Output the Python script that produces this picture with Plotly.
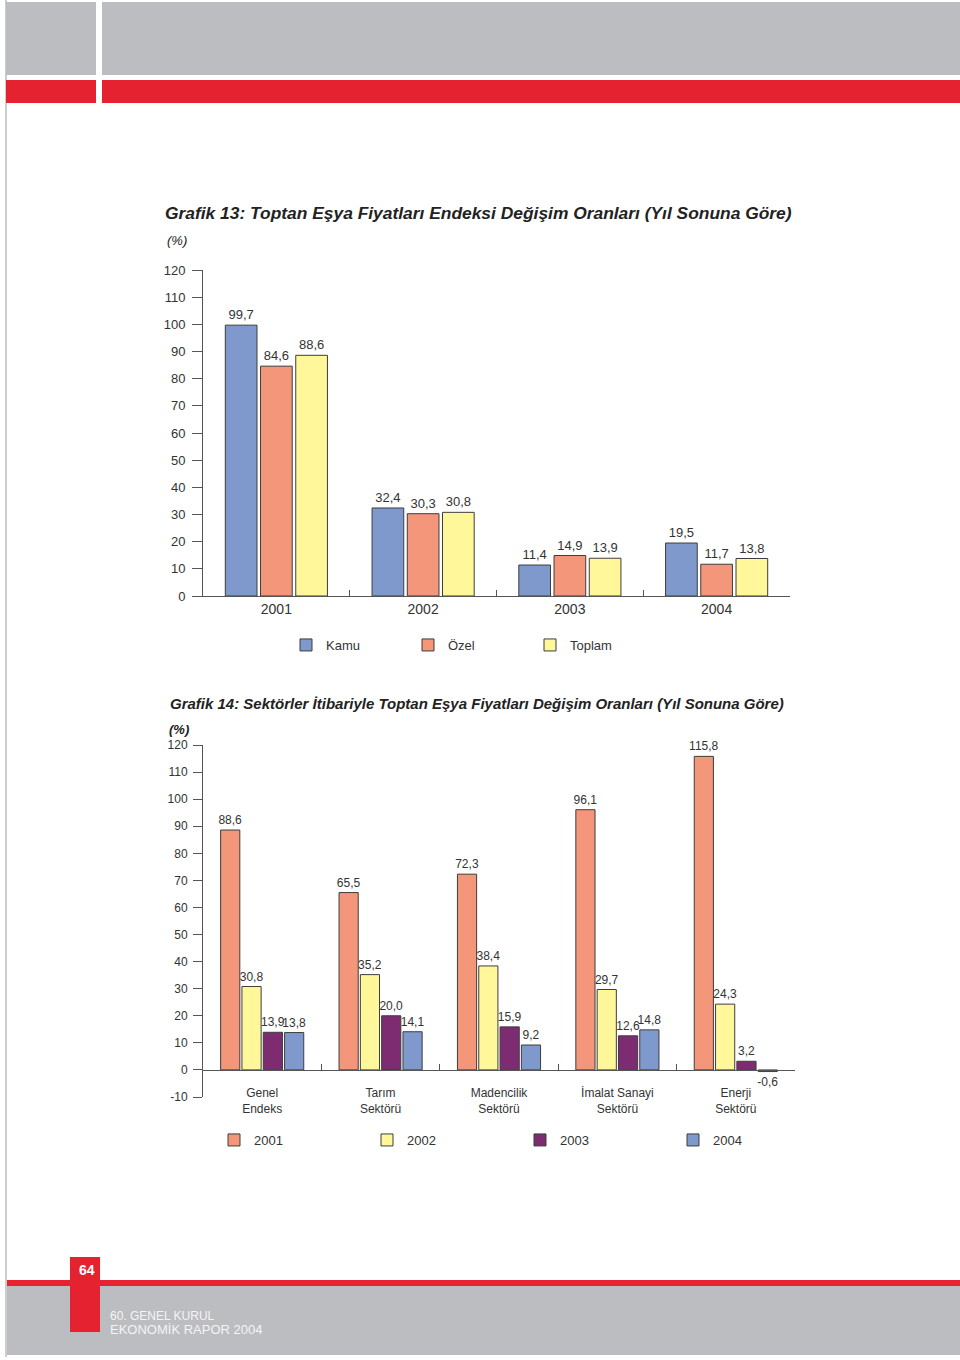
import plotly.graph_objects as go

W, H = 960, 1360

# ---------------- data ----------------
years13 = ["2001", "2002", "2003", "2004"]
kamu = [99.7, 32.4, 11.4, 19.5]
ozel = [84.6, 30.3, 14.9, 11.7]
toplam = [88.6, 30.8, 13.9, 13.8]
series13_names = ["Kamu", "Özel", "Toplam"]

sectors14 = ["Genel<br>Endeks", "Tarım<br>Sektörü", "Madencilik<br>Sektörü",
             "İmalat Sanayi<br>Sektörü", "Enerji<br>Sektörü"]
y2001 = [88.6, 65.5, 72.3, 96.1, 115.8]
y2002 = [30.8, 35.2, 38.4, 29.7, 24.3]
y2003 = [13.9, 20.0, 15.9, 12.6, 3.2]
y2004 = [13.8, 14.1, 9.2, 14.8, -0.6]
series14_names = ["2001", "2002", "2003", "2004"]

yticks13 = list(range(0, 121, 10))
yticks14 = list(range(-10, 121, 10))

# ---------------- style ----------------
BLUE = "#7f99cc"
SALMON = "#f4967a"
YELLOW = "#fff799"
PURPLE = "#7d2c72"
EDGE = "#3d3d3d"
TXT = "#333333"
AX = "#555555"
GRAY = "#bcbdc0"
RED = "#e42230"
FONT = "Liberation Sans, Arial, sans-serif"
FONT_N = "Liberation Sans Narrow, Arial Narrow, Liberation Sans, sans-serif"


def px(x):
    return x / W


def py(y):
    return 1 - y / H


def lab(vals):
    return [f"{v:.1f}".replace(".", ",") for v in vals]


fig = go.Figure()

for name, vals, col in zip(series13_names, [kamu, ozel, toplam], [BLUE, SALMON, YELLOW]):
    fig.add_trace(go.Bar(
        x=years13, y=vals, name=name, marker=dict(color=col, line=dict(color=EDGE, width=1)),
        text=lab(vals), textposition="outside", constraintext="none", cliponaxis=False,
        textfont=dict(family=FONT, size=13, color=TXT),
        xaxis="x", yaxis="y", legend="legend"))

for name, vals, col in zip(series14_names, [y2001, y2002, y2003, y2004],
                           [SALMON, YELLOW, PURPLE, BLUE]):
    fig.add_trace(go.Bar(
        x=sectors14, y=vals, name=name, marker=dict(color=col, line=dict(color=EDGE, width=1)),
        text=lab(vals), textposition="outside", constraintext="none", cliponaxis=False,
        textfont=dict(family=FONT_N, size=12, color=TXT),
        xaxis="x2", yaxis="y2", legend="legend2"))

axis_common = dict(showgrid=False, zeroline=False, showline=True, linecolor=AX, linewidth=1,
                   tickcolor=AX, tickwidth=1, automargin=False)

fig.update_layout(
    width=W, height=H, autosize=False,
    margin=dict(l=0, r=0, t=0, b=0, pad=0, autoexpand=False),
    paper_bgcolor="white", plot_bgcolor="rgba(0,0,0,0)",
    barmode="group", bargap=0.28, bargroupgap=0.1,
    font=dict(family=FONT, color=TXT),
    xaxis=dict(domain=[px(203), px(790)], anchor="y", type="category",
               ticks="inside", tickson="boundaries", ticklen=6,
               tickfont=dict(family=FONT, size=14, color=TXT), **axis_common),
    yaxis=dict(domain=[py(596), py(270)], anchor="x", range=[0, 120],
               tickvals=yticks13, ticktext=[str(v) for v in yticks13],
               ticks="outside", ticklen=10, ticklabelstandoff=4,
               tickfont=dict(family=FONT, size=13, color=TXT), **axis_common),
    xaxis2=dict(domain=[px(203), px(795)], anchor="free", position=py(1070), type="category",
                ticks="inside", tickson="boundaries", ticklen=6, ticklabelstandoff=12,
                tickfont=dict(family=FONT_N, size=12, color=TXT), **axis_common),
    yaxis2=dict(domain=[py(1097), py(745)], anchor="x2", range=[-10, 120],
                tickvals=yticks14, ticktext=[str(v) for v in yticks14],
                ticks="outside", ticklen=9, ticklabelstandoff=3,
                tickfont=dict(family=FONT_N, size=12, color=TXT), **axis_common),
    legend=dict(orientation="h", x=px(286), xanchor="left", y=py(645), yanchor="middle",
                entrywidth=77, font=dict(family=FONT, size=13, color=TXT),
                bgcolor="rgba(0,0,0,0)", traceorder="normal"),
    legend2=dict(orientation="h", x=px(214), xanchor="left", y=py(1140), yanchor="middle",
                 entrywidth=108, font=dict(family=FONT_N, size=13, color=TXT),
                 bgcolor="rgba(0,0,0,0)", traceorder="normal"),
)

# ---------------- page decoration ----------------
shapes = [
    dict(type="line", x0=px(6), x1=px(6), y0=py(0), y1=py(1357), line=dict(color="#999999", width=1)),
    dict(type="rect", x0=px(6), x1=px(960), y0=py(75), y1=py(2), fillcolor=GRAY, line_width=0),
    dict(type="rect", x0=px(6), x1=px(960), y0=py(103), y1=py(80), fillcolor=RED, line_width=0),
    dict(type="rect", x0=px(96), x1=px(102), y0=py(104), y1=py(0), fillcolor="white", line_width=0),
    dict(type="rect", x0=px(7), x1=px(960), y0=py(1286), y1=py(1280), fillcolor=RED, line_width=0),
    dict(type="rect", x0=px(7), x1=px(960), y0=py(1355), y1=py(1286), fillcolor=GRAY, line_width=0),
    dict(type="rect", x0=px(70), x1=px(100), y0=py(1332), y1=py(1257), fillcolor=RED, line_width=0),
]
for s in shapes:
    s.update(xref="paper", yref="paper", layer="below")
fig.update_layout(shapes=shapes)

ann = [
    dict(text="<b><i>Grafik 13: Toptan Eşya Fiyatları Endeksi Değişim Oranları (Yıl Sonuna Göre)</i></b>",
         x=px(163), y=py(213), font=dict(family=FONT, size=17.4, color="#222222")),
    dict(text="<i>(%)</i>", x=px(165), y=py(240), font=dict(family=FONT, size=13, color="#222222")),
    dict(text="<b><i>Grafik 14: Sektörler İtibariyle Toptan Eşya Fiyatları Değişim Oranları (Yıl Sonuna Göre)</i></b>",
         x=px(168), y=py(703), font=dict(family=FONT, size=15, color="#222222")),
    dict(text="<b><i>(%)</i></b>", x=px(167), y=py(729), font=dict(family=FONT, size=13, color="#222222")),
    dict(text="<b>64</b>", x=px(77), y=py(1270), font=dict(family=FONT, size=14, color="white")),
    dict(text="60. GENEL KURUL", x=px(108), y=py(1316), font=dict(family=FONT, size=12, color="#f4f4f4")),
    dict(text="EKONOMİK RAPOR 2004", x=px(108), y=py(1329), font=dict(family=FONT, size=13, color="#f4f4f4")),
]
for a in ann:
    a.update(xref="paper", yref="paper", xanchor="left", yanchor="middle", showarrow=False)
fig.update_layout(annotations=ann)

post = (
    "document.documentElement.style.margin='0';document.documentElement.style.padding='0';"
    "document.documentElement.style.overflow='hidden';"
    "document.body.style.margin='0';document.body.style.padding='0';"
    "document.body.style.overflow='hidden';document.body.style.height='1360px';"
    "var gd=document.getElementById('{plot_id}');"
    "gd.style.position='fixed';gd.style.top='0px';gd.style.left='0px';"
)

fig.write_html("out.html", config={"displayModeBar": False}, post_script=post)
